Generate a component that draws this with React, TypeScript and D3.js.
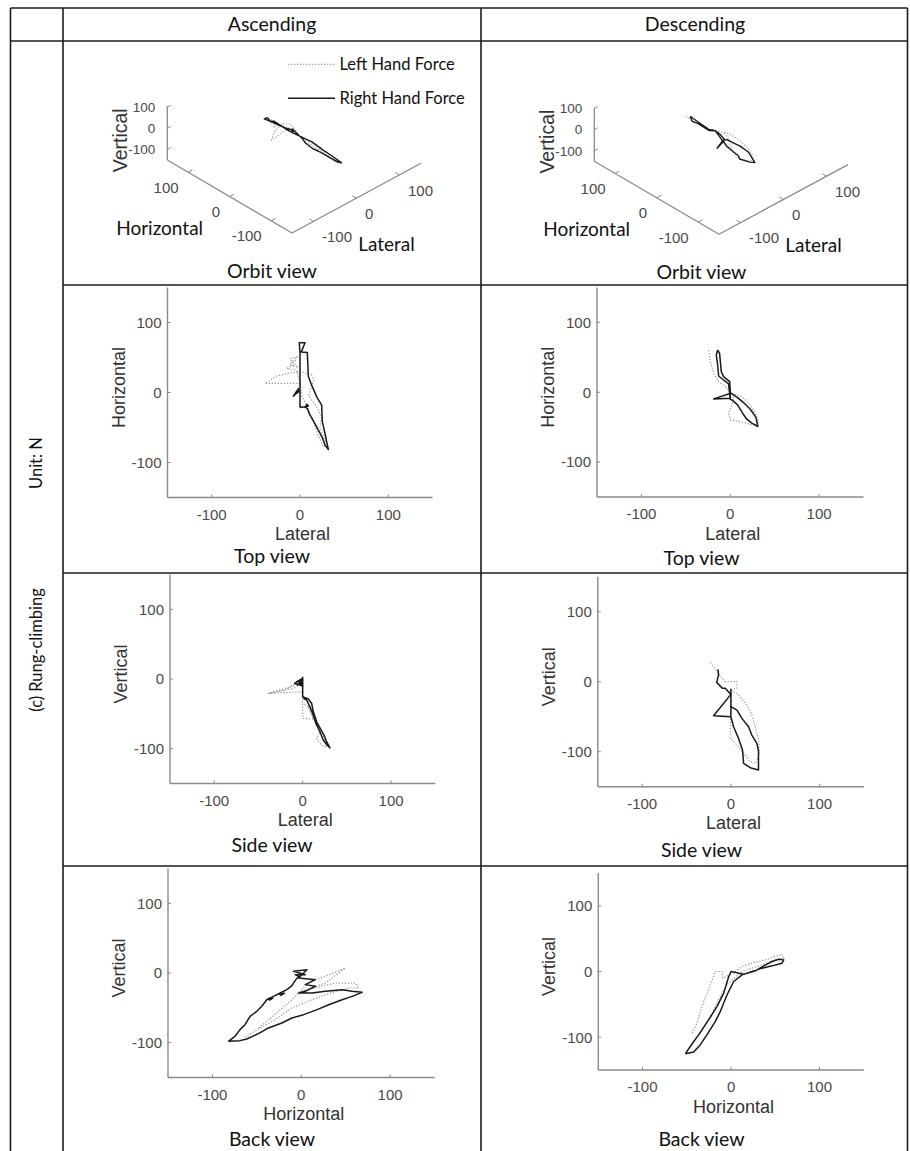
import React from "react";
import * as d3 from "d3";

type P2 = [number, number];
type P3 = [number, number, number];

// ---------- column / view labels ----------
const columnTitles = ["Ascending", "Descending"];
const rowTitle = "(c) Rung-climbing";
const unitTitle = "Unit: N";
const legendLabels = ["Left Hand Force", "Right Hand Force"];
const tickValues = [-100, 0, 100];
const tickLabels = ["-100", "0", "100"];

// ---------- orbit view traces: [lateral, horizontal, vertical] ----------
const ascOrbitRight: P3[] = [
  [0, -21, -20], [-1, 3, 2], [-7, -5, -2], [-3, 3, 1], [0, 20, -15], [0, 58, -25], [-1, 71, -28],
  [6, 71, -30], [1, 58, -27], [8, 57, -33], [9, 22, -40], [13, 10, -45], [19, -6, -55],
  [24, -18, -62], [25, -44, -72], [29, -63, -85], [32, -81, -98], [28, -75, -95], [21, -54, -80],
  [16, -42, -70], [11, -32, -62], [8, -23, -50], [6, -21, -45], [0, -21, -20],
];
const ascOrbitLeft: P3[] = [
  [0, 13, -5], [-40, 13, -20], [-26, 23, -14], [-11, 28, -10], [2, 30, -8], [13, 25, -15],
  [16, 19, -25], [10, 0, -35], [19, -20, -55], [24, -35, -70], [23, -49, -80], [26, -63, -90],
  [30, -73, -97], [26, -78, -95], [20, -60, -80], [15, -40, -60], [8, -20, -40], [2, -5, -15],
  [0, 13, -5], [-4, 32, -8], [-15, 34, -12], [-8, 39, -10], [-11, 49, -8], [-3, 51, -5],
];
const descOrbitRight: P3[] = [
  [-14, 60, 17], [-12, 55, 10], [-10, 30, 0], [-7.5, 22, -8], [-1, 15, -12], [0, 3, -17],
  [0, -9, -30], [-19, -10, -48], [0, -1, -50], [0, -5, -36], [7.5, -7, -40], [15, -15, -55],
  [22, -24, -68], [29, -36, -90], [31, -49, -126], [24, -44, -122], [14, -30, -112],
  [13, -28, -98], [8, -18, -80], [2, -11, -60], [0, -10, -50], [-2, 12, -10], [-9, 19, -9],
  [-13, 23, 0], [-14, 39, 5], [-16, 53, 3], [-14, 60, 17],
];
const descOrbitLeft: P3[] = [
  [-24, 60, 28], [-22, 44, 20], [-18, 27, 10], [-13, 15, 5], [-5, 8, 0], [2, -1, -5],
  [13, -6, -20], [22, -18, -40], [29, -32, -70], [32, -42, -100], [30, -48, -115],
  [21, -45, -112], [9, -42, -95], [0, -40, -82], [-2, -30, -60], [1, -20, -35], [4, -11, -20],
  [3, -2, -5],
];

// ---------- top view: [lateral, horizontal] ----------
const ascTopRight: P2[][] = [
  [[0, -21.4], [0, 56.7], [-0.8, 71], [5.7, 71], [1.5, 58], [8.3, 57], [9.4, 23.3], [13.2, 10.5],
    [18.9, -6.2], [24.5, -18], [25.3, -41.9], [28.3, -58.6], [30.2, -70.5], [32.1, -81.4],
    [28.3, -75.2], [25.7, -65.7], [20.8, -53.8], [15.8, -41.9], [11.3, -32.4], [8.3, -22.9],
    [5.7, -20.5], [0, -21.4]],
  [[-0.8, 3.3], [-7.5, -5.2], [-3, 3.3], [-1.5, 5.7], [-6, -3], [-0.5, 2]],
  [[7, -16], [9.5, -19], [6, -21], [8, -17]],
];
const ascTopLeft: P2[][] = [
  [[0, 12.9], [-39.6, 12.9], [-26.4, 23.3], [-11.3, 28.1], [1.9, 29.5], [13.2, 24.8], [15.8, 18.6],
    [12, 5], [10, -5], [18.9, -20.5], [24.5, -34.8], [22.6, -49], [26.4, -63.3], [30.2, -72.9],
    [26.4, -77.6], [20, -60], [15, -40], [8, -20], [2, -5], [0, 12.9]],
  [[0, 12.9], [-3.8, 31.9], [-15, 34.3], [-7.5, 39], [-11.3, 48.6], [-3, 51], [-9.4, 43.8],
    [-2, 36], [-12, 40], [-4, 46]],
];
const descTopRight: P2[][] = [
  [[-14.2, 60.5], [-12, 55.7], [-10.1, 29.5], [-7.5, 22.4], [-0.7, 15.2], [0, 3.3], [0, -8.6],
    [-18.7, -9.5], [0.7, -1.4], [7.5, -7.1], [15, -14.8], [22.5, -24.3], [28.8, -35.7],
    [31.1, -49], [24.3, -44.3], [18.7, -38.6], [13.9, -30], [8.2, -18.1], [1.9, -11], [0, -10],
    [-1.9, 11.9], [-8.6, 18.6], [-13.1, 23.3], [-14.2, 39], [-15.7, 53.3], [-14.2, 60.5]],
];
const descTopLeft: P2[][] = [
  [[-24.3, 60.5], [-22.5, 43.8], [-18.7, 27.1], [-13.1, 15.2], [-5.6, 8.1], [1.9, -1.4],
    [13.1, -6.2], [22.5, -18.1], [28.8, -32.4], [31.8, -41.9], [30, -48], [20.6, -45.2],
    [9.4, -41.9], [0, -39.5], [-1.9, -30], [1.1, -20.5], [3.7, -11], [2.6, -2.4]],
];

// ---------- side view: [lateral, vertical] ----------
const ascSideRight: P2[][] = [
  [[0, 3.4], [0, -25.5], [6.4, -28.8], [10.2, -35.1], [12.1, -47.1], [15.8, -61.5], [20.4, -72.1],
    [24.2, -80.8], [27.2, -90.4], [30.9, -99], [27.9, -95.2], [23.4, -88], [19.6, -76],
    [15.1, -63.9], [12.1, -51.9], [8.3, -39.9], [4.5, -30.3], [0.8, -27.9]],
  [[0, 1], [-6.8, -3.8], [0, -1.4], [-6, -8.7], [0, -6.3], [-4.9, -2.9], [-9, -6], [0, -10], [-3, -4]],
];
const ascSideLeft: P2[][] = [
  [[0, -4.8], [-10.6, -13.5], [-38.9, -20.7], [-14.3, -11.1], [0, -2], [-20, -16], [-38.9, -20.7],
    [0, -18.3]],
  [[0, -18.3], [0, -56.7], [12.1, -57.7], [6.4, -39.9], [0, -35.1]],
  [[6.4, -39.9], [15.8, -66.3], [23.4, -80.8], [27.2, -97.6], [21.5, -95.2], [15.8, -85.6],
    [20, -75], [13, -60]],
];
const descSideRight: P2[][] = [
  [[-14.6, 17.6], [-13.9, 9.5], [-16.1, -1], [-9.4, -9.5], [-6.4, -9.5], [0, -18.1],
    [-19.5, -48.6], [0, -50], [0, -35.7], [6.8, -40.5], [12.4, -52.4], [19.9, -64.3],
    [23.6, -76.2], [29.3, -88.1], [31.1, -99], [31.1, -126.2], [21.8, -122.9], [14.3, -116.7],
    [13.1, -97.6], [8.6, -81], [3, -64.3], [0, -50]],
  [[0, -10], [0, -36]],
];
const descSideLeft: P2[][] = [
  [[-23.3, 27.6], [-13.9, 11.9], [-7.1, 0], [6.8, 0], [6.8, -9.5], [0, -12]],
  [[0, -19], [-0.8, -81]],
  [[0, -12], [8.6, -19], [18, -33.3], [23.6, -47.6], [28.1, -66.7], [31.9, -88.1],
    [31.9, -102.4], [28.1, -116.7], [21.8, -114.3], [16.1, -104.8], [6.8, -90.5], [0, -81]],
];

// ---------- back view: [horizontal, vertical] ----------
const ascBackRight: P2[][] = [
  [[-82.1, -98.1], [-74.6, -90.9], [-68.9, -81.3], [-63.3, -74.2], [-57.6, -62.2], [-50.1, -55],
    [-44.4, -47.8], [-38.8, -38.3], [-31.3, -33.5], [-23.7, -28.7], [-16.2, -23.9],
    [-10.5, -18.2], [-7.5, -12], [-3, -4.8], [-6.8, -2.4], [4.5, -2.4], [-8.7, 2.4], [6.4, 4.8],
    [-3, -7.2], [15.8, -9.6], [4.5, -16.7], [15.8, -19.1], [4.5, -26.3], [-3, -28.7],
    [12.1, -28.7], [27.1, -26.3], [46, -23.9], [57.3, -26.3], [68.5, -27.8], [57.3, -33.5],
    [46, -38.3], [30.9, -45.5], [15.8, -53.6], [2.6, -59.8], [-10.5, -64.6], [-21.8, -71.8],
    [-36.9, -78.9], [-48.2, -87.1], [-61.4, -94.7], [-68.9, -97.1], [-82.1, -98.1]],
  [[-38, -37], [-32, -36], [-36, -39], [-33, -37]],
  [[-25, -31], [-19, -29], [-23, -32], [-20, -30]],
];
const ascBackLeft: P2[][] = [
  [[-63.3, -92], [-48, -80], [-29.4, -67], [-10.5, -50], [12.1, -38.3], [35, -28], [53.5, -21.5],
    [64.8, -21.5], [61, -14.4], [38.4, -14.4], [20, -20], [0.8, -26.3], [27.1, -14.4],
    [49.7, 7.2], [30, -3], [10, -12], [-10.5, -38.3], [-30, -60], [-48.2, -78.9]],
];
const descBackRight: P2[][] = [
  [[-51.6, -125.1], [-42.2, -122.5], [-34.7, -111.4], [-27.1, -96.2], [-17.7, -75.9],
    [-12.1, -60.8], [-8.3, -48.1], [-4.5, -35.4], [3, -15.2], [12.4, -5.1], [23.7, 0], [35, 5.1],
    [46.3, 8.6], [57.6, 12.7], [59.5, 17.7], [53.9, 18.7], [46.3, 15.2], [36.9, 8.6], [27.5, 1],
    [14.3, -4.1], [0, 0], [-2.6, -7.6], [-8.3, -32.9], [-15.8, -53.2], [-25.2, -73.4],
    [-36.5, -96.2], [-45.9, -113.9], [-51.6, -125.1]],
];
const descBackLeft: P2[][] = [
  [[-44.1, -93.7], [-38.4, -78.5], [-32.8, -53.2], [-27.1, -32.9], [-17.7, 0], [-10.2, 0],
    [-9.4, -10.1], [1.1, -3.5], [12.4, 7.6], [23.7, 12.7], [38.8, 17.7], [50.1, 22.8],
    [57.6, 26.3], [59.5, 20.3], [50.1, 17.7], [31.3, 8.6], [12.4, 0], [-2.6, -17.7],
    [-6.4, -22.8], [-21.5, -63.3], [-36.5, -98.7]],
];

// ---------- styling ----------
const SANS = "'Liberation Sans', Arial, sans-serif";
const BODY = "Lato, 'Open Sans', sans-serif";
const AXIS_COLOR = "#8a8a8a";
const TICK_TEXT = "#4a4a4a";
const LABEL_TEXT = "#333";
const RIGHT_STROKE = "#1a1a1a";
const LEFT_STROKE = "#999";

type PanelCfg = {
  xRange: [number, number];
  yRange: [number, number];
  xLabel: string;
  yLabel: string;
  title: string;
  titleX: number;
  titleY: number;
};

function Panel2D({ cfg, left, right }: { cfg: PanelCfg; left: P2[][]; right: P2[][] }) {
  const x = d3.scaleLinear().domain([-150, 150]).range(cfg.xRange);
  const y = d3.scaleLinear().domain([-150, 150]).range(cfg.yRange);
  const line = d3.line<P2>().x((d) => x(d[0])).y((d) => y(d[1]));
  const ax = cfg.xRange[0];
  const ay = cfg.yRange[0];
  return (
    <g>
      <line x1={ax} y1={ay} x2={cfg.xRange[1]} y2={ay} stroke={AXIS_COLOR} strokeWidth={1.4} />
      <line x1={ax} y1={ay} x2={ax} y2={cfg.yRange[1]} stroke={AXIS_COLOR} strokeWidth={1.4} />
      {tickValues.map((t, i) => (
        <g key={"xt" + t}>
          <line x1={x(t)} x2={x(t)} y1={ay} y2={ay - 3} stroke={AXIS_COLOR} strokeWidth={1} />
          <text x={x(t)} y={ay + 22} textAnchor="middle" fontFamily={SANS} fontSize={15} fill={TICK_TEXT}>
            {tickLabels[i]}
          </text>
        </g>
      ))}
      {tickValues.map((t, i) => (
        <g key={"yt" + t}>
          <line x1={ax} x2={ax + 3} y1={y(t)} y2={y(t)} stroke={AXIS_COLOR} strokeWidth={1} />
          <text x={ax - 6} y={y(t) + 5.4} textAnchor="end" fontFamily={SANS} fontSize={15} fill={TICK_TEXT}>
            {tickLabels[i]}
          </text>
        </g>
      ))}
      <text x={x(0) + 2.5} y={ay + 42.5} textAnchor="middle" fontFamily={SANS} fontSize={18} fill={LABEL_TEXT}>
        {cfg.xLabel}
      </text>
      <text
        transform={`translate(${ax - 43},${y(0) - 5}) rotate(-90)`}
        textAnchor="middle"
        fontFamily={SANS}
        fontSize={18}
        fill={LABEL_TEXT}
      >
        {cfg.yLabel}
      </text>
      <text x={cfg.titleX} y={cfg.titleY} textAnchor="middle" fontFamily={BODY} fontSize={19.5} fill="#111">
        {cfg.title}
      </text>
      {left.map((seg, i) => (
        <path key={"l" + i} d={line(seg) || ""} fill="none" stroke={LEFT_STROKE} strokeWidth={1.2}
          strokeDasharray="1.3 1.7" strokeLinejoin="round" />
      ))}
      {right.map((seg, i) => (
        <path key={"r" + i} d={line(seg) || ""} fill="none" stroke={RIGHT_STROKE} strokeWidth={1.5}
          strokeLinejoin="round" />
      ))}
    </g>
  );
}

// orbit (3-D) view: base corner at lateral=-150, horizontal=-150, vertical=-150
const LAT_VEC: P2 = [129, -69.7];
const HOR_VEC: P2 = [-124.7, -73];
const VERT_VEC: P2 = [0, -63.4];

function OrbitPanel({ cx, cy, left, right, titleX, withLegend }: {
  cx: number; cy: number; left: P3[]; right: P3[]; titleX: number; withLegend: boolean;
}) {
  const u = d3.scaleLinear().domain([-150, 150]).range([0, 1]);
  const project = (p: P3): P2 => [
    cx + u(p[0]) * LAT_VEC[0] + u(p[1]) * HOR_VEC[0] + u(p[2]) * VERT_VEC[0],
    cy + u(p[0]) * LAT_VEC[1] + u(p[1]) * HOR_VEC[1] + u(p[2]) * VERT_VEC[1],
  ];
  const line = d3.line<P3>().x((d) => project(d)[0]).y((d) => project(d)[1]);
  const seg = (a: P3, b: P3) => {
    const pa = project(a);
    const pb = project(b);
    return { x1: pa[0], y1: pa[1], x2: pb[0], y2: pb[1] };
  };
  const vertLabelPos = project([-150, 150, 0]);
  const horLabelPos = project([-150, 0, -150]);
  const latLabelPos = project([0, -150, -150]);
  return (
    <g>
      <line {...seg([-150, 150, -150], [-150, 150, 105])} stroke={AXIS_COLOR} strokeWidth={1.3} />
      <line {...seg([-150, 150, -150], [-150, -150, -150])} stroke={AXIS_COLOR} strokeWidth={1.3} />
      <line {...seg([-150, -150, -150], [150, -150, -150])} stroke={AXIS_COLOR} strokeWidth={1.3} />
      {tickValues.map((t, i) => {
        const p = project([-150, 150, t]);
        return (
          <g key={"v" + t}>
            <line {...seg([-150, 150, t], [-142, 150, t])} stroke={AXIS_COLOR} strokeWidth={1} />
            <text x={p[0] - 12} y={p[1] + 4.8} textAnchor="end" fontFamily={SANS} fontSize={13.5} fill={TICK_TEXT}>
              {tickLabels[i]}
            </text>
          </g>
        );
      })}
      {tickValues.map((t, i) => {
        const p = project([-150, t, -150]);
        return (
          <g key={"h" + t}>
            <line {...seg([-150, t, -150], [-140, t, -150])} stroke={AXIS_COLOR} strokeWidth={1} />
            <text x={p[0] - 9.5} y={p[1] + 20.5} textAnchor="end" fontFamily={SANS} fontSize={15} fill={TICK_TEXT}>
              {tickLabels[i]}
            </text>
          </g>
        );
      })}
      {tickValues.map((t, i) => {
        const p = project([t, -150, -150]);
        return (
          <g key={"l" + t}>
            <line {...seg([t, -150, -150], [t, -140, -150])} stroke={AXIS_COLOR} strokeWidth={1} />
            <text x={p[0] + 8.5} y={p[1] + 20.8} textAnchor="start" fontFamily={SANS} fontSize={15} fill={TICK_TEXT}>
              {tickLabels[i]}
            </text>
          </g>
        );
      })}
      <text transform={`translate(${vertLabelPos[0] - 40},${vertLabelPos[1] + 12}) rotate(-90)`}
        textAnchor="middle" fontFamily={SANS} fontSize={19.5} fill={LABEL_TEXT}>Vertical</text>
      <text x={horLabelPos[0] - 70} y={horLabelPos[1] + 38} textAnchor="middle" fontFamily={BODY}
        fontSize={19} fill="#111">Horizontal</text>
      <text x={latLabelPos[0] + 30} y={latLabelPos[1] + 53} textAnchor="middle" fontFamily={BODY}
        fontSize={19} fill="#111">Lateral</text>
      <text x={titleX} y={cy + 45} textAnchor="middle" fontFamily={BODY} fontSize={19.5} fill="#111">
        Orbit view
      </text>
      <path d={line(left) || ""} fill="none" stroke={LEFT_STROKE} strokeWidth={1.1}
        strokeDasharray="1.3 1.7" strokeLinejoin="round" />
      <path d={line(right) || ""} fill="none" stroke={RIGHT_STROKE} strokeWidth={1.4} strokeLinejoin="round" />
      {withLegend && (
        <g>
          <line x1={288} x2={335} y1={64.3} y2={64.3} stroke={LEFT_STROKE} strokeWidth={1.3} strokeDasharray="1.3 1.7" />
          <text x={339.5} y={70} fontFamily={BODY} fontSize={16.5} fill="#111">{legendLabels[0]}</text>
          <line x1={288} x2={335} y1={98.3} y2={98.3} stroke={RIGHT_STROKE} strokeWidth={1.6} />
          <text x={339.5} y={104} fontFamily={BODY} fontSize={16.5} fill="#111">{legendLabels[1]}</text>
        </g>
      )}
    </g>
  );
}

const panels: { cfg: PanelCfg; left: P2[][]; right: P2[][] }[] = [
  { cfg: { xRange: [167.5, 432.5], yRange: [497.5, 287.5], xLabel: "Lateral", yLabel: "Horizontal", title: "Top view", titleX: 272, titleY: 563 }, left: ascTopLeft, right: ascTopRight },
  { cfg: { xRange: [597, 863.5], yRange: [497, 287.5], xLabel: "Lateral", yLabel: "Horizontal", title: "Top view", titleX: 701.5, titleY: 564.5 }, left: descTopLeft, right: descTopRight },
  { cfg: { xRange: [170, 435.3], yRange: [783.5, 574.5], xLabel: "Lateral", yLabel: "Vertical", title: "Side view", titleX: 272, titleY: 852 }, left: ascSideLeft, right: ascSideRight },
  { cfg: { xRange: [597.8, 864], yRange: [786.7, 576.7], xLabel: "Lateral", yLabel: "Vertical", title: "Side view", titleX: 701.5, titleY: 857 }, left: descSideLeft, right: descSideRight },
  { cfg: { xRange: [168, 434.5], yRange: [1077.5, 868.5], xLabel: "Horizontal", yLabel: "Vertical", title: "Back view", titleX: 272, titleY: 1145.5 }, left: ascBackLeft, right: ascBackRight },
  { cfg: { xRange: [598.3, 863.8], yRange: [1070, 873], xLabel: "Horizontal", yLabel: "Vertical", title: "Back view", titleX: 701.5, titleY: 1145.5 }, left: descBackLeft, right: descBackRight },
];

export default function App() {
  const border = { stroke: "#1c1c1c", strokeWidth: 1.6 };
  return (
    <svg width={910} height={1151} viewBox="0 0 910 1151"
      style={{ position: "absolute", left: 0, top: 0, background: "#fff" }}>
      <rect x={0} y={0} width={910} height={1151} fill="#fff" />
      {/* table grid */}
      <line x1={10.5} y1={8} x2={907.5} y2={8} {...border} />
      <line x1={10.5} y1={41} x2={907.5} y2={41} {...border} />
      <line x1={63} y1={285} x2={907.5} y2={285} {...border} />
      <line x1={63} y1={573} x2={907.5} y2={573} {...border} />
      <line x1={63} y1={866} x2={907.5} y2={866} {...border} />
      <line x1={10.5} y1={8} x2={10.5} y2={1151} {...border} />
      <line x1={63} y1={8} x2={63} y2={1151} {...border} />
      <line x1={481} y1={8} x2={481} y2={1151} {...border} />
      <line x1={907.5} y1={8} x2={907.5} y2={1151} {...border} />

      <text x={272} y={31} textAnchor="middle" fontFamily={BODY} fontSize={19.5} fill="#111">{columnTitles[0]}</text>
      <text x={695} y={31} textAnchor="middle" fontFamily={BODY} fontSize={19.5} fill="#111">{columnTitles[1]}</text>
      <text transform="translate(41.5,463) rotate(-90)" textAnchor="middle" fontFamily={BODY} fontSize={16.5} fill="#111">{unitTitle}</text>
      <text transform="translate(41.5,650) rotate(-90)" textAnchor="middle" fontFamily={BODY} fontSize={16.5} fill="#111">{rowTitle}</text>

      <OrbitPanel cx={292} cy={233} left={ascOrbitLeft} right={ascOrbitRight} titleX={272} withLegend={true} />
      <OrbitPanel cx={719} cy={234.3} left={descOrbitLeft} right={descOrbitRight} titleX={701.5} withLegend={false} />

      {panels.map((p, i) => (
        <Panel2D key={i} cfg={p.cfg} left={p.left} right={p.right} />
      ))}
    </svg>
  );
}
